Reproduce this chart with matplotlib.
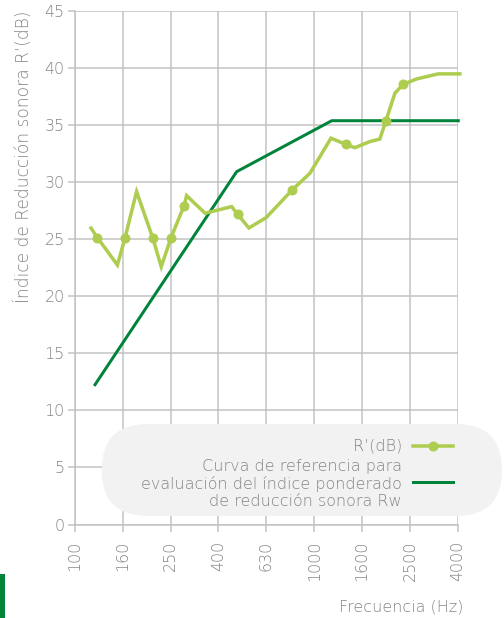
import matplotlib.pyplot as plt
from matplotlib.patches import FancyBboxPatch, Rectangle
from matplotlib.lines import Line2D

plt.rcParams['font.family'] = ['DejaVu Sans']
plt.rcParams['font.weight'] = 'light'

# x axis: third-octave band index counted from 100 Hz (100 -> 0, 4000 -> 16)
freq_labels = ["100", "160", "250", "400", "630", "1000", "1600", "2500", "4000"]
freq_ticks = [0, 2, 4, 6, 8, 10, 12, 14, 16]
db_ticks = [0, 5, 10, 15, 20, 25, 30, 35, 40, 45]

# measured curve R'(dB)
r_band = [0.68, 0.94, 1.78, 2.10, 2.58, 3.25, 3.61, 4.02, 4.56, 4.67, 5.44, 6.55,
          6.80, 7.27, 7.99, 9.08, 9.82, 10.70, 11.31, 11.70, 12.32, 12.74, 12.99,
          13.37, 13.72, 14.28, 15.18, 16.08]
r_db = [25.95, 25.13, 22.73, 25.13, 29.15, 25.13, 22.58, 25.13, 27.9, 28.8, 27.26,
        27.84, 27.17, 25.97, 26.87, 29.3, 30.76, 33.83, 33.3, 33.0, 33.53, 33.76,
        35.34, 37.77, 38.55, 39.02, 39.46, 39.46]
r_markers = [1, 3, 5, 7, 8, 12, 15, 18, 22, 24]

# reference curve (Rw)
ref_band = [0.81, 6.76, 10.73, 16.08]
ref_db = [12.14, 30.9, 35.36, 35.36]

light = "#aecd50"
dark = "#00843a"
gray_txt = "#858585"
gray_grid = "#c2c2c2"
fs = 16

W, H = 504, 618
fig = plt.figure(figsize=(W / 72, H / 72), dpi=72)
ax = fig.add_axes([74.8 / W, 1 - 524.6 / H, (457.9 - 74.8) / W, (524.6 - 10.6) / H])

ax.plot(ref_band, ref_db, color=dark, lw=3, clip_on=False, zorder=3,
        solid_capstyle="butt")
ax.plot(r_band, r_db, color=light, lw=3.5, clip_on=False, zorder=4,
        marker="o", markersize=9, markevery=r_markers, solid_joinstyle="miter")

ax.set_xlim(0, 16)
ax.set_ylim(0, 45)
ax.set_xticks(freq_ticks)
ax.set_xticklabels(freq_labels)
ax.set_yticks(db_ticks)
ax.grid(True, color=gray_grid, lw=1.5)
ax.set_axisbelow(True)
for s in ["top", "right"]:
    ax.spines[s].set_visible(False)
for s in ["left", "bottom"]:
    ax.spines[s].set_color(gray_grid)
    ax.spines[s].set_linewidth(1.5)
ax.tick_params(axis="both", colors=gray_grid, width=1.5, length=7,
               labelcolor=gray_txt, labelsize=fs)
ax.tick_params(axis="x", labelrotation=90, pad=9)
ax.tick_params(axis="y", pad=3)

# overlay in pixel units for legend and labels
ov = fig.add_axes([0, 0, 1, 1], zorder=5)
ov.set_xlim(0, W)
ov.set_ylim(H, 0)
ov.axis("off")

ov.add_patch(FancyBboxPatch((101.7, 424), 400.3, 92,
                            boxstyle="round,pad=0,rounding_size=46",
                            fc="#f2f2f2", ec="none"))
ov.text(402, 446, "R’(dB)", ha="right", va="center", color=gray_txt, fontsize=fs)
ov.add_line(Line2D([413, 453], [446, 446], color=light, lw=3.5))
ov.add_line(Line2D([433], [446], color=light, marker="o", markersize=9))
ov.text(402, 484, "Curva de referencia para\nevaluación del índice ponderado\n"
        "de reducción sonora Rw", ha="right", va="center", color=gray_txt,
        fontsize=fs, linespacing=1.12)
ov.add_line(Line2D([413, 453], [482, 482], color=dark, lw=3))

ov.text(24, 11, "Índice de Reducción sonora R’(dB)", rotation=90, ha="center",
        va="top", color=gray_txt, fontsize=17)
ov.text(463, 607, "Frecuencia (Hz)", ha="right", va="center", color=gray_txt,
        fontsize=fs)
ov.add_patch(Rectangle((0, 574), 5, 44, fc=dark, ec="none"))

fig.savefig("out.png", dpi=72)
